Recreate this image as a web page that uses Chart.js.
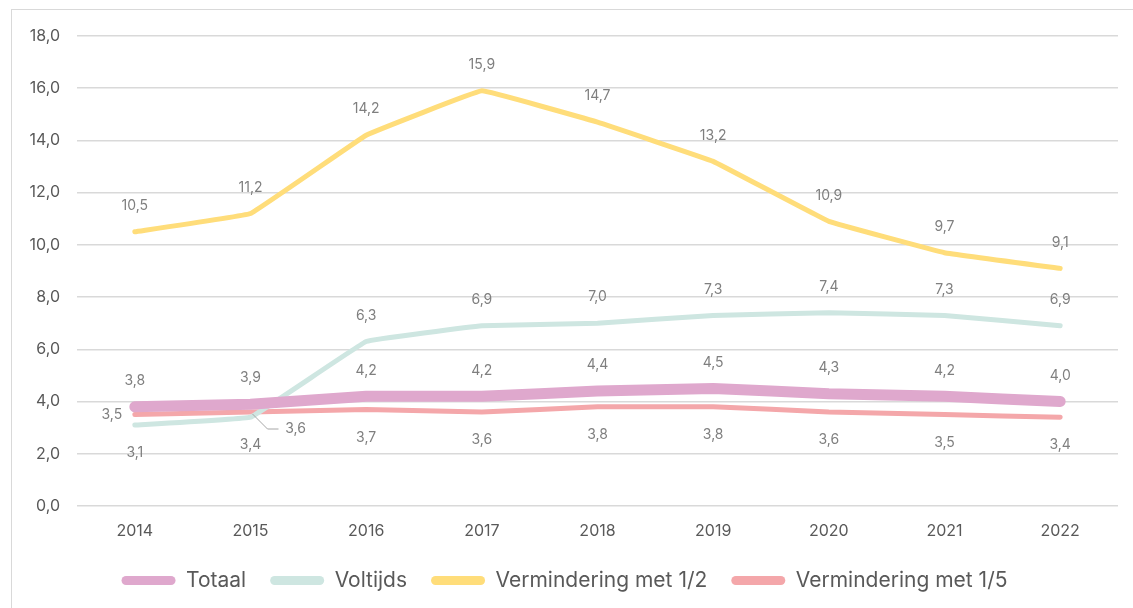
<!DOCTYPE html>
<html>
<head>
<meta charset="utf-8">
<script src="https://cdn.jsdelivr.net/npm/chart.js@4"></script>
<style>
  html, body { margin: 0; padding: 0; background: #fff; overflow: hidden; }
  #frame { position: absolute; left: 11px; top: 9px; width: 1140px; height: 620px; border: 1px solid #d9d9d9; box-sizing: border-box; }
  #wrap { position: absolute; left: 0; top: 0; width: 1133px; height: 608px; }
</style>
</head>
<body>
<div id="frame"></div>
<div id="wrap"><canvas id="chart"></canvas></div>
<script>
var years = ['2014', '2015', '2016', '2017', '2018', '2019', '2020', '2021', '2022'];
var totaal = [3.8, 3.9, 4.2, 4.2, 4.4, 4.5, 4.3, 4.2, 4.0];
var voltijds = [3.1, 3.4, 6.3, 6.9, 7.0, 7.3, 7.4, 7.3, 6.9];
var verminderingHalf = [10.5, 11.2, 14.2, 15.9, 14.7, 13.2, 10.9, 9.7, 9.1];
var verminderingVijfde = [3.5, 3.6, 3.7, 3.6, 3.8, 3.8, 3.6, 3.5, 3.4];

// where each value label sits relative to its point
var labelSide = [
	['above', 'above', 'above', 'above', 'above', 'above', 'above', 'above', 'above'],
	['below', 'below', 'above', 'above', 'above', 'above', 'above', 'above', 'above'],
	['above', 'above', 'above', 'above', 'above', 'above', 'above', 'above', 'above'],
	['left', 'leader', 'below', 'below', 'below', 'below', 'below', 'below', 'below']
];

var fontName = 'Inter, "Noto Sans", sans-serif';

var valueLabels = {
	id: 'valueLabels',
	afterDatasetsDraw: function (chart) {
		var ctx = chart.ctx;
		ctx.save();
		ctx.font = '14px ' + fontName;
		ctx.fillStyle = '#7f7f7f';
		ctx.textAlign = 'center';
		ctx.textBaseline = 'middle';
		chart.data.datasets.forEach(function (ds, i) {
			var meta = chart.getDatasetMeta(i);
			meta.data.forEach(function (pt, j) {
				var txt = ds.data[j].toFixed(1).replace('.', ',');
				var side = labelSide[i][j];
				var x = pt.x, y = pt.y;
				if (side === 'above') {
					y -= 26;
				} else if (side === 'below') {
					y += 28;
				} else if (side === 'left') {
					x -= 23;
				} else if (side === 'leader') {
					ctx.strokeStyle = '#a6a6a6';
					ctx.lineWidth = 1;
					ctx.beginPath();
					ctx.moveTo(x + 2, y + 2);
					ctx.lineTo(x + 17, y + 17);
					ctx.lineTo(x + 28, y + 17);
					ctx.stroke();
					x += 45;
					y += 17;
				}
				ctx.fillText(txt, x, y);
			});
		});
		ctx.restore();
	}
};

function lineSet(label, data, color, width) {
	return {
		label: label,
		data: data,
		borderColor: color,
		backgroundColor: color,
		borderWidth: width,
		pointRadius: 0,
		pointHoverRadius: 0,
		tension: 0.05,
		borderCapStyle: 'round',
		borderJoinStyle: 'round'
	};
}

new Chart(document.getElementById('chart').getContext('2d'), {
	type: 'line',
	data: {
		labels: years,
		datasets: [
			lineSet('Totaal', totaal, '#dfa8cd', 11),
			lineSet('Voltijds', voltijds, '#cee6e1', 5),
			lineSet('Vermindering met 1/2', verminderingHalf, '#ffdd7a', 5),
			lineSet('Vermindering met 1/5', verminderingVijfde, '#f4a7aa', 5)
		]
	},
	options: {
		responsive: true,
		maintainAspectRatio: false,
		animation: false,
		layout: {
			padding: { left: 11, right: 15, top: 36, bottom: 7 }
		},
		plugins: {
			legend: {
				position: 'bottom',
				labels: {
					boxWidth: 54,
					boxHeight: 9,
					useBorderRadius: true,
					borderRadius: 4.5,
					padding: 24,
					color: '#595959',
					font: { family: fontName, size: 21 },
					generateLabels: function (chart) {
						var items = Chart.defaults.plugins.legend.labels.generateLabels(chart);
						items.forEach(function (it) { it.lineWidth = 0; });
						return items;
					}
				}
			},
			tooltip: { enabled: false }
		},
		scales: {
			x: {
				offset: true,
				afterFit: function (scale) { scale.height = 40; },
				grid: { display: false, drawTicks: false },
				border: { display: false },
				ticks: {
					padding: 16,
					color: '#595959',
					font: { family: fontName, size: 16 }
				}
			},
			y: {
				min: 0,
				max: 18,
				afterFit: function (scale) { scale.width = 66; },
				grid: { color: '#d9d9d9', lineWidth: 1.5, drawTicks: false },
				border: { display: false },
				ticks: {
					stepSize: 2,
					padding: 17,
					color: '#595959',
					font: { family: fontName, size: 16 },
					callback: function (v) { return v.toFixed(1).replace('.', ','); }
				}
			}
		}
	},
	plugins: [valueLabels]
});
</script>
</body>
</html>
